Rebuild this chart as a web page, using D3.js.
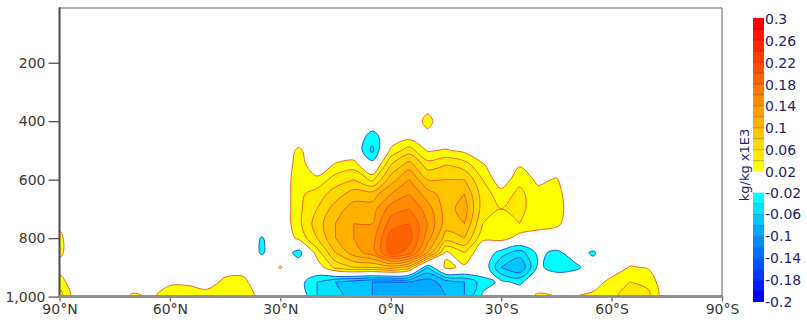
<!DOCTYPE html>
<html><head><meta charset="utf-8">
<script src="https://cdn.jsdelivr.net/npm/d3@7"></script>
<style>
body{margin:0;background:#fff;}
svg{display:block;font-family:"DejaVu Sans","Liberation Sans",Arial,sans-serif;}
</style>
</head><body>
<svg id="chart" width="807" height="324"></svg>
<script>
// ---------------- data ----------------
const latitudes = [90,85,80,75,70,65,60,55,50,45,40,35,30,25,20,15,10,5,0,-5,-10,-15,-20,-25,-30,-35,-40,-45,-50,-55,-60,-65,-70,-75,-80,-85,-90];
const pressureLevels = [350,400,450,500,550,600,650,700,750,800,850,900,950,1000];
const qGridUnit = 0.01; // grid values are in hundredths of kg/kg x1E3
const qGrid = [
/*350*/ [0,0,0,0,0,0,0,0,0,0, 0,0,0,0,0,0,0,0,0,0, 1.2,0,0,0,0,0,0,0,0,0, 0,0,0,0,0,0,0],
/*400*/ [0,0,0,0,0,0,0,0,0,0, 0,0,0,0,0,0,0,0,0,0, 2.8,0,0,0,0,0,0,0,0,0, 0,0,0,0,0,0,0],
/*450*/ [0,0,0,0,0,0,0,0,0,0, 0,0,0,0,0,0,0,-3,0,1, 1.2,0,0,0,0,0,0,0,0,0, 0,0,0,0,0,0,0],
/*500*/ [0,0,0,0,0,0,0,0,0,0, 0,0,0,2.5,0,0,0,-4.5,2.5,5, 1.8,2.2,1.5,0,0,0,0,0,0,0, 0,0,0,0,0,0,0],
/*550*/ [0,0,0,0,0,0,0,0,0,0, 0,0,0,3,0.5,2.3,3,-0.9,6,9, 5,6,5,2.3,0,1.8,0.5,0.5,0,0, 0,0,0,0,0,0,0],
/*600*/ [0,0,0,0,0,0,0,0,0,0, 0,0,0,3.5,2.5,5,6,3.5,9,12, 8,8,8,4,0.5,3.5,1.5,2.2,0,0, 0,0,0,0,0,0,0],
/*650*/ [0,0,0,0,0,0,0,0,0,0, 0,0,0,3.5,5,7,9,9,12,14, 11,9,10,5,3,4.5,2.8,2.8,0.3,0, 0,0,0,0,0,0,0],
/*700*/ [0,0,0,0,0,0,0,0,0,0, 0,0,0,3.5,6,9,11,11,15,16, 13,9,11,5,4,4.5,3,3,0.5,0, 0,0,0,0,0,0,0],
/*750*/ [1.5,0,0,0,0,0,0,0,0,0, 0,0,0,3.5,7,10,12,12,17,18, 14,9,10,4,3.5,4,2.8,2.5,0.5,0, 0,0,0,0,0,0,0],
/*800*/ [2.5,0,0,0,0,0,0,0,0,0, 0,-2.2,0,2.5,6,10,12,13,19,19, 13,7,8,2.5,3,1,1,0.5,0,0, 0,0,0,0,0,0,0],
/*850*/ [2.5,0,0,0,0,0,0,0,0,0, 0,-2.3,0,-3,3,8,11,13,19,17, 10,1.5,4,0,-3,-5,-1.5,-2.5,-1,-2.3, 0,0,0,0,0,0,0],
/*900*/ [1,0,0,0,0,0,0,0,0,1, 1,0,2.2,0,0.5,4.5,6,6,7,5, -4,2.6,1.5,0,-6,-8,-1.5,-3,-2.5,-1, 0,2.2,1.8,0,0,0,0],
/*950*/ [3,0,0,0,0,0,1.5,1.5,1,2.5, 2.6,0,0,-1,-4,-6,-7,-8,-8,-8, -9,-7,-6,-3,-1.5,-2.5,0,0,0,0.5, 3,4,3.5,0,0,0,0],
/*1000*/[5,0,0,0,2.6,1.5,3.5,3.5,3,4, 4,0.5,0,0,-4,-5,-7,-8,-9,-10, -10,-8,-6,-1.5,0,0,2.6,1.9,1.9,2.8, 3.5,5,4.5,0,0,0,0]
];
const posLevels = [0.02,0.04,0.06,0.08,0.1,0.12,0.14,0.16,0.18,0.2,0.22,0.24,0.26,0.28];
const negLevels = [-0.02,-0.04,-0.06,-0.08,-0.1,-0.12,-0.14,-0.16,-0.18,-0.2];
const yTickValues = [200,400,600,800,1000];
const xTickValues = [90,60,30,0,-30,-60,-90];
const xTickLabels = ["90°N","60°N","30°N","0°N","30°S","60°S","90°S"];
const posTickLabels = ["0.3","0.26","0.22","0.18","0.14","0.1","0.06","0.02"];
const negTickLabels = ["-0.02","-0.06","-0.1","-0.14","-0.18","-0.2"];
const unitLabel = "kg/kg x1E3";

// ---------------- layout ----------------
const plot = {left: 59.5, right: 722, top: 8, bottom: 296.6};
const svg = d3.select("#chart");

const x = d3.scaleLinear().domain([90, -90]).range([plot.left, plot.right]);
const y = d3.scaleLinear().domain([0, 1000]).range([4.3, plot.bottom]);

const nx = latitudes.length, ny = pressureLevels.length;
const gx = d3.scaleLinear().domain([0.5, nx - 0.5]).range([latitudes[0], latitudes[nx - 1]]);
const gy = d3.scaleLinear().domain([0.5, ny - 0.5]).range([pressureLevels[0], pressureLevels[ny - 1]]);

const flat = qGrid.flat().map(v => v * qGridUnit);
const flatNeg = flat.map(v => -v);

const posColor = t => d3.interpolateRgb("#ffff00", "#ff0000")((t - 0.02) / 0.26);
const negColor = (t, i) => d3.interpolateRgb("#00ffff", "#0000ff")(i / (negLevels.length - 1));

const ringLine = d3.line()
  .x(d => x(gx(d[0])))
  .y(d => y(gy(d[1])))
  .curve(d3.curveCatmullRomClosed.alpha(0.5));
function pathOf(geom) {
  return geom.coordinates.map(poly => poly.map(ring => ringLine(ring.slice(0, -1))).join("")).join("");
}

svg.append("defs").append("clipPath").attr("id", "clip")
  .append("rect").attr("x", plot.left).attr("y", plot.top)
  .attr("width", plot.right - plot.left).attr("height", plot.bottom - plot.top);

const field = svg.append("g").attr("clip-path", "url(#clip)");

const posContours = d3.contours().size([nx, ny]).thresholds(posLevels)(flat);
const negContours = d3.contours().size([nx, ny]).thresholds(negLevels.map(v => -v))(flatNeg);

field.selectAll("path.pf").data(posContours).join("path")
  .attr("class", "pf").attr("d", pathOf).attr("fill", d => posColor(d.value))
  .attr("fill-rule", "evenodd").attr("stroke", "none");
field.selectAll("path.nf").data(negContours).join("path")
  .attr("class", "nf").attr("d", pathOf).attr("fill", (d, i) => negColor(d.value, i))
  .attr("fill-rule", "evenodd").attr("stroke", "none");
field.selectAll("path.pl").data(posContours).join("path")
  .attr("class", "pl").attr("d", pathOf).attr("fill", "none")
  .attr("stroke", "#f0501e").attr("stroke-width", 0.9);
field.selectAll("path.nl").data(negContours).join("path")
  .attr("class", "nl").attr("d", pathOf).attr("fill", "none")
  .attr("stroke", "#1e3ce6").attr("stroke-width", 0.9);

// ---------------- frame & axes ----------------
svg.append("line").attr("x1", plot.left).attr("x2", plot.right).attr("y1", plot.top).attr("y2", plot.top)
  .attr("stroke", "#9a9a9a").attr("stroke-width", 1.6);
svg.append("line").attr("x1", plot.right).attr("x2", plot.right).attr("y1", plot.top).attr("y2", plot.bottom)
  .attr("stroke", "#9a9a9a").attr("stroke-width", 1.6);

const yAxis = svg.append("g").attr("transform", `translate(${plot.left},0)`)
  .call(d3.axisLeft(y).tickValues(yTickValues).tickSize(11).tickPadding(3));
yAxis.select(".domain").remove();
yAxis.selectAll("line").attr("stroke", "#555").attr("stroke-width", 1.3);
yAxis.selectAll("text").attr("font-size", 14).attr("fill", "#383838").attr("font-family", "DejaVu Sans");

const xAxis = svg.append("g").attr("transform", `translate(0,${plot.bottom})`)
  .call(d3.axisBottom(x).tickValues(xTickValues).tickFormat((d, i) => xTickLabels[i]).tickSize(5).tickPadding(2));
xAxis.select(".domain").remove();
xAxis.selectAll("line").attr("stroke", "#666").attr("stroke-width", 1.3);
xAxis.selectAll("text").attr("font-size", 14).attr("fill", "#383838").attr("font-family", "DejaVu Sans");

svg.append("line").attr("x1", plot.left).attr("x2", plot.left).attr("y1", plot.top - 0.8).attr("y2", plot.bottom + 1)
  .attr("stroke", "#4a4a4a").attr("stroke-width", 2);
svg.append("line").attr("x1", plot.left - 1).attr("x2", plot.right + 0.8).attr("y1", plot.bottom).attr("y2", plot.bottom)
  .attr("stroke", "#8f8f8f").attr("stroke-width", 3);

// ---------------- colour bar ----------------
const cb = {x: 753, w: 11};
const cbPos = d3.scaleLinear().domain([0.02, 0.30]).range([171.7, 18]);
const cbNeg = d3.scaleLinear().domain([-0.02, -0.22]).range([192.7, 302]);
const step = 0.02;
const cbg = svg.append("g");
cbg.selectAll("rect.p").data(posLevels).join("rect").attr("class", "p")
  .attr("x", cb.x).attr("width", cb.w)
  .attr("y", d => cbPos(d + step)).attr("height", d => cbPos(d) - cbPos(d + step))
  .attr("fill", d => posColor(d));
cbg.selectAll("rect.n").data(negLevels).join("rect").attr("class", "n")
  .attr("x", cb.x).attr("width", cb.w)
  .attr("y", d => cbNeg(d)).attr("height", d => cbNeg(d - step) - cbNeg(d))
  .attr("fill", (d, i) => negColor(d, i));
cbg.selectAll("line.ps").data(posLevels.slice(1)).join("line").attr("class", "ps")
  .attr("x1", cb.x).attr("x2", cb.x + cb.w).attr("y1", d => cbPos(d)).attr("y2", d => cbPos(d))
  .attr("stroke", "#000").attr("stroke-opacity", 0.35).attr("stroke-width", 0.8);
cbg.selectAll("line.ns").data(negLevels.slice(1)).join("line").attr("class", "ns")
  .attr("x1", cb.x).attr("x2", cb.x + cb.w).attr("y1", d => cbNeg(d)).attr("y2", d => cbNeg(d))
  .attr("stroke", "#000").attr("stroke-opacity", 0.35).attr("stroke-width", 0.8);

const posLab = d3.scalePoint().domain(posTickLabels).range([19.3, 171.7]);
const negLab = d3.scalePoint().domain(negTickLabels).range([192.7, 301.7]);
cbg.selectAll("text.pl").data(posTickLabels).join("text").attr("class", "pl")
  .attr("x", cb.x + cb.w + 1).attr("y", d => posLab(d)).attr("dy", "0.35em")
  .attr("font-size", 14).attr("fill", "#22226e").text(d => d);
cbg.selectAll("text.nl").data(negTickLabels).join("text").attr("class", "nl")
  .attr("x", cb.x + cb.w + 1).attr("y", d => negLab(d)).attr("dy", "0.35em")
  .attr("font-size", 14).attr("fill", "#22226e").text(d => d);
svg.append("text").attr("transform", "translate(749,165) rotate(-90)")
  .attr("text-anchor", "middle").attr("font-size", 13).attr("fill", "#22226e").text(unitLabel);
</script>
</body></html>
